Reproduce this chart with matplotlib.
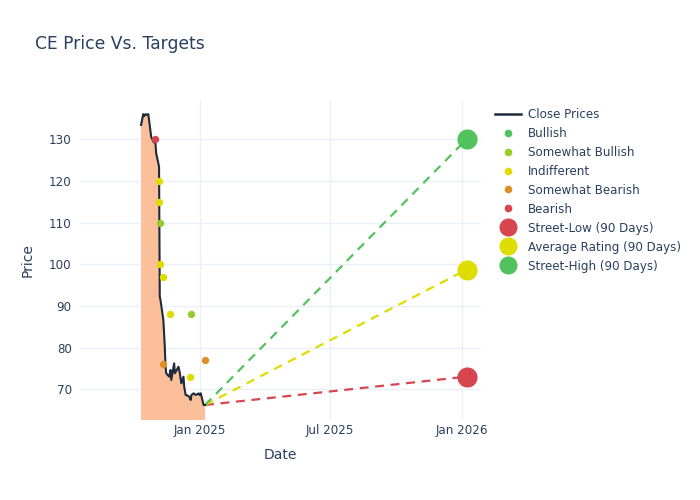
import pandas as pd
import matplotlib.pyplot as plt
import matplotlib.dates as mdates
from matplotlib.lines import Line2D

# Close prices
close_dates = ["2024-10-11", "2024-10-14", "2024-10-15", "2024-10-17", "2024-10-18",
               "2024-10-21", "2024-10-23", "2024-10-25", "2024-10-28", "2024-10-31",
               "2024-11-01", "2024-11-04", "2024-11-05", "2024-11-06", "2024-11-07",
               "2024-11-11", "2024-11-13", "2024-11-14", "2024-11-15", "2024-11-19",
               "2024-11-21", "2024-11-22", "2024-11-26", "2024-11-27", "2024-12-02",
               "2024-12-04", "2024-12-06", "2024-12-09", "2024-12-10", "2024-12-12",
               "2024-12-13", "2024-12-17", "2024-12-19", "2024-12-20", "2024-12-23",
               "2024-12-26", "2024-12-30", "2024-12-31", "2025-01-02", "2025-01-06",
               "2025-01-08"]
close_values = [133.4, 136.0, 135.5, 136.0, 135.8,
                136.0, 133.4, 130.6, 129.4, 129.0,
                126.6, 124.2, 123.4, 92.2, 91.4,
                86.6, 80.2, 75.4, 73.8, 73.0,
                74.6, 72.2, 76.2, 73.8, 75.4,
                73.8, 71.4, 73.0, 70.6, 68.6,
                68.6, 68.2, 67.4, 68.6, 69.0,
                68.6, 69.0, 68.6, 69.0, 66.2,
                66.2]

# Analyst ratings
rating_dates = ["2024-10-30", "2024-11-05", "2024-11-05", "2024-11-06", "2024-11-06",
                "2024-11-11", "2024-11-20", "2024-12-20", "2024-11-11", "2025-01-08",
                "2024-12-18"]
rating_values = [130, 120, 115, 110, 100, 97, 88, 88, 76, 77, 73]
rating_types = ["Bearish", "Indifferent", "Indifferent", "Somewhat Bullish", "Indifferent",
                "Indifferent", "Indifferent", "Somewhat Bullish", "Somewhat Bearish",
                "Somewhat Bearish", "Indifferent"]

# 90-day targets
target_date = "2026-01-07"
street_low = 73.0
avg_rating = 98.7
street_high = 130.0

colors = {
    "Bullish": "#52C25C",
    "Somewhat Bullish": "#97CC2E",
    "Indifferent": "#DEDC00",
    "Somewhat Bearish": "#DD8F27",
    "Bearish": "#D6464F",
}
text_color = "#2A3F5F"
grid_color = "#EBF0F8"

cd = pd.to_datetime(close_dates)
rd = pd.to_datetime(rating_dates)
td = pd.to_datetime(target_date)

plt.rcParams["font.family"] = "DejaVu Sans"
fig = plt.figure(figsize=(7, 5), dpi=100)
ax = fig.add_axes([80 / 700, 80 / 500, 401 / 700, 320 / 500])

ax.fill_between(cd, close_values, 0, color="#FBBF9A", lw=0, zorder=1)
ax.plot(cd, close_values, color="#1F2A3C", lw=1.5, zorder=3)

for t, c in colors.items():
    xs = [d for d, r in zip(rd, rating_types) if r == t]
    ys = [v for v, r in zip(rating_values, rating_types) if r == t]
    ax.scatter(xs, ys, s=28, color=c, lw=0, zorder=4)

last_d, last_v = cd[-1], close_values[-1]
for val, c in [(street_low, colors["Bearish"]), (avg_rating, colors["Indifferent"]),
               (street_high, colors["Bullish"])]:
    ax.plot([last_d, td], [last_v, val], color=c, lw=1.6, ls=(0, (4, 3)), zorder=2)
    ax.scatter([td], [val], s=210, color=c, lw=0, zorder=5)

ax.set_xlim(pd.Timestamp("2024-07-18"), pd.Timestamp("2026-01-27"))
ax.set_ylim(62.6, 139.4)
ax.set_yticks([70, 80, 90, 100, 110, 120, 130])
ax.set_xticks(pd.to_datetime(["2025-01-01", "2025-07-01", "2026-01-01"]))
ax.xaxis.set_major_formatter(mdates.DateFormatter("%b %Y"))
ax.grid(True, color=grid_color, lw=1)
ax.set_axisbelow(True)
for s in ax.spines.values():
    s.set_visible(False)
ax.tick_params(axis="y", length=0, labelsize=8.6, colors=text_color, pad=6)
ax.tick_params(axis="x", length=0, labelsize=8.6, colors=text_color, pad=3)
ax.set_xlabel("Date", fontsize=10, color=text_color, labelpad=8)
ax.set_ylabel("Price", fontsize=10, color=text_color, labelpad=10)

fig.text(35 / 700, 1 - 44 / 500, "CE Price Vs. Targets", fontsize=12.3,
         color=text_color, va="center")

handles = [Line2D([], [], color="#1F2A3C", lw=1.8)]
labels = ["Close Prices"]
for t, c in colors.items():
    handles.append(Line2D([], [], ls="", marker="o", ms=4.5, color=c, mec=c))
    labels.append(t)
for name, c in [("Street-Low (90 Days)", colors["Bearish"]),
                ("Average Rating (90 Days)", colors["Indifferent"]),
                ("Street-High (90 Days)", colors["Bullish"])]:
    handles.append(Line2D([], [], ls="", marker="o", ms=12, color=c, mec=c))
    labels.append(name)
leg = fig.legend(handles, labels, loc="upper left", bbox_to_anchor=(490 / 700, 1 - 103 / 500),
                 frameon=False, fontsize=8.6, handlelength=2.2, labelspacing=0.5,
                 handletextpad=0.6, borderaxespad=0)
for txt in leg.get_texts():
    txt.set_color(text_color)

fig.savefig("out.png", dpi=100)
